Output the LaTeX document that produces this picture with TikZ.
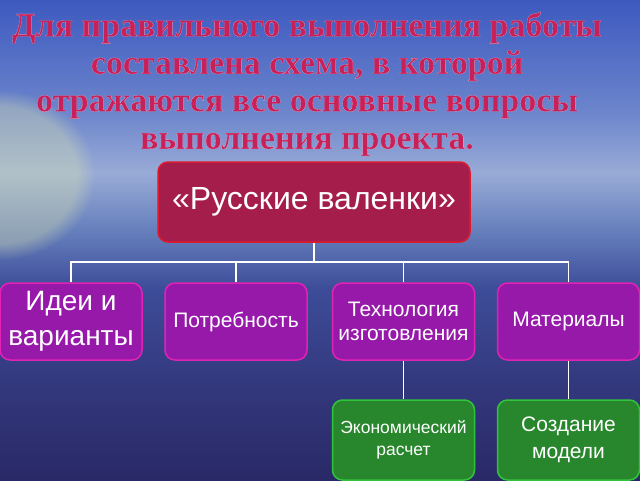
\documentclass[tikz,border=0pt]{standalone}
\usepackage{fontspec}
\setmainfont{Liberation Sans}
\newfontfamily\titlefont{Liberation Serif}
\usepackage{tikz}
\usetikzlibrary{shapes,arrows,positioning,fadings}

\definecolor{titlered}{RGB}{200,32,88}
\definecolor{mainfill}{RGB}{165,30,75}
\definecolor{mainedge}{RGB}{225,25,45}
\definecolor{subfill}{RGB}{150,25,170}
\definecolor{subedge}{RGB}{225,35,180}
\definecolor{greenfill}{RGB}{40,135,45}
\definecolor{greenedge}{RGB}{50,195,60}
\definecolor{glow}{RGB}{225,235,175}

\pgfdeclareverticalshading{seasky}{100bp}{
  rgb(0bp)=(0.16,0.16,0.40);
  rgb(25bp)=(0.16,0.16,0.40);
  rgb(35bp)=(0.20,0.22,0.49);
  rgb(45bp)=(0.24,0.30,0.60);
  rgb(51bp)=(0.40,0.50,0.74);
  rgb(57bp)=(0.60,0.67,0.84);
  rgb(63.5bp)=(0.42,0.52,0.80);
  rgb(75bp)=(0.24,0.35,0.75);
  rgb(100bp)=(0.24,0.35,0.75)}

% light rim round the title letters
\newcommand{\rimtext}[1]{\special{pdf:literal direct 1 0.8 0.88 RG 0.08 w 2 Tr}#1\special{pdf:literal direct 0 Tr}}

\begin{document}
\begin{tikzpicture}[x=1pt,y=-1pt,
    mainbox/.style={draw=mainedge,fill=mainfill,line width=1.5pt,rounded corners=10pt,
      minimum width=312pt,minimum height=80pt,text=white,font=\fontsize{32}{36}\selectfont},
    idbox/.style={draw=subedge,fill=subfill,line width=1.5pt,rounded corners=10pt,
      minimum width=142pt,minimum height=77pt,text=white,align=center,inner sep=1pt},
    grbox/.style={draw=greenedge,fill=greenfill,line width=1.5pt,rounded corners=10pt,
      minimum width=142pt,minimum height=80pt,text=white,align=center,inner sep=1pt},
    link/.style={draw=white,line width=1.5pt}]
		% background: sky and sea
		\shade[shading=seasky] (0,0) rectangle (640,480);
		\useasboundingbox (0,0) rectangle (640,480);
		\clip (0,0) rectangle (640,480);
		\fill[glow,path fading=circle with fuzzy edge 20 percent,fill opacity=0.35] (0,175) ellipse (95 and 85);
		%% the title
		\node[text=titlered,align=center,font=\titlefont\bfseries\fontsize{34}{37.5}\selectfont] (title) at (307,84)
		  {\rimtext{Для правильного выполнения работы\\ составлена схема, в которой\\
		   отражаются все основные вопросы\\ выполнения проекта.}};
		%% the boxes
		\node[mainbox] (felt) at (314,202) {«Русские валенки»};
		\node[idbox,font=\fontsize{28}{35}\selectfont] (ideas) at (71,321.5) {Идеи и\\ варианты};
		\node[idbox,font=\fontsize{21}{25}\selectfont] (need) at (236,321.5) {Потребность};
		\node[idbox,font=\fontsize{21}{23.5}\selectfont] (tech) at (403.5,321.5) {Технология\\ изготовления};
		\node[idbox,font=\fontsize{21}{25}\selectfont] (matl) at (568.5,321.5) {Материалы};
		\node[grbox,font=\fontsize{17.5}{21.5}\selectfont] (cost) at (403.5,440) {Экономический\\ расчет};
		\node[grbox,font=\fontsize{21}{27}\selectfont] (model) at (568.5,440) {Создание\\ модели};
		%% the links
		\coordinate (bus) at (felt.south |- 0,262);
		\draw[link] (felt.south) -- (bus);
		\draw[link] (bus) -| (ideas.north);
		\draw[link] (bus) -| (need.north);
		\draw[link] (bus) -| (tech.north);
		\draw[link] (bus) -| (matl.north);
		\draw[link] (tech.south) -- (cost.north);
		\draw[link] (matl.south) -- (model.north);
		\end{tikzpicture}
\end{document}
